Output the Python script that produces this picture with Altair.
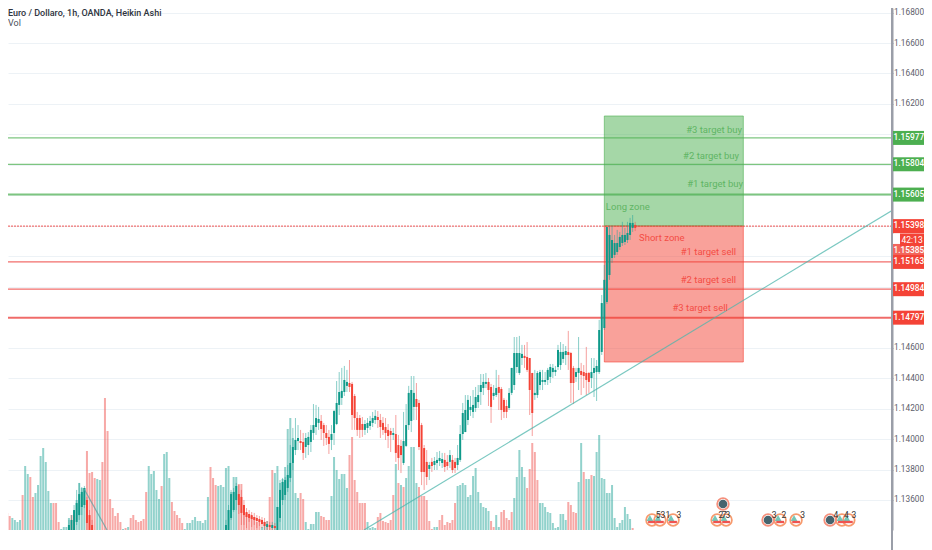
import altair as alt
import pandas as pd

# ---- price candles, as (open, high, low, close) in 1e-5 price points, one list per stretch of bars
start_a = 26
candles_a = [
    (113370,113469,113337,113436),(113403,113501,113383,113469),(113403,113567,113370,113534),
    (113456,113666,113436,113580),(113501,113712,113469,113639),(113554,113685,113501,113653),
    (113567,113692,113547,113679),(113600,113620,113400,113449),(113501,113534,113370,113400),
    (113436,113469,113337,113370),
]
start_b = 87
candles_b = [
    (113370,113469,113345,113436),(113370,113567,113345,113534),(113482,113666,113469,113639),
    (113534,113679,113521,113653),(113600,113712,113534,113692),(113639,113698,113508,113567),
    (113620,113666,113436,113515),(113567,113600,113436,113501),(113521,113547,113416,113488),
    (113508,113534,113456,113482),(113501,113521,113423,113475),(113488,113515,113436,113469),
    (113482,113501,113416,113462),(113475,113495,113429,113456),(113469,113488,113416,113442),
    (113456,113482,113403,113429),(113423,113462,113403,113442),(113436,113456,113403,113423),
    (113416,113456,113403,113436),(113429,113449,113403,113416),(113403,113554,113390,113554),
    (113482,113731,113456,113666),(113600,113745,113567,113718),(113633,113751,113600,113731),
    (113679,113830,113653,113764),(113745,113961,113718,113843),(113843,114073,113797,113948),
    (113928,114138,113895,113994),(113987,114092,113928,114007),(113987,114060,113928,113974),
    (113981,114040,113863,113909),(113948,114040,113876,114007),(113961,114046,113895,114014),
]
start_c = 120
candles_c = [
    (113981,114092,113915,114060),(114040,114230,113994,114092),(114079,114224,114027,114138),
    (114106,114211,114060,114132),(114119,114158,113994,114066),(114092,114106,113955,114040),
    (114040,114092,113961,114007),(114014,114060,113902,113968),(113994,114092,113928,114033),
    (114040,114191,113961,114184),(114099,114381,114092,114237),(114224,114440,114158,114309),
    (114270,114467,114224,114316),(114309,114480,114283,114388),(114349,114454,114309,114375),
    (114368,114519,114309,114342),(114362,114375,114060,114158),(114283,114296,114060,114138),
    (114138,114178,114020,114060),(114138,114158,114007,114060),(114099,114145,114014,114060),
    (114060,114125,114027,114099),(114073,114138,114040,114106),(114086,114152,114060,114119),
    (114106,114178,114079,114138),(114125,114191,114099,114152),(114145,114184,114073,114125),
    (114125,114165,114007,114079),(114106,114145,114027,114060),(114079,114138,113994,114040),
    (114060,114099,113941,114020),(114053,114073,113915,114027),(114027,114073,113994,114040),
    (114033,114158,113850,113909),(113961,114027,113797,113876),(113955,113994,113777,113895),
    (113843,114178,113830,113987),(113955,114230,113948,114092),(114092,114349,114060,114303),
    (114119,114414,114046,114322),(114211,114414,114125,114303),(114263,114368,114125,114211),
    (114237,114257,113928,113948),(114092,114106,113698,113784),(113941,113961,113666,113784),
    (113850,113928,113698,113751),(113804,113850,113731,113830),
]
start_d = 167
candles_d = [
    (113850,113876,113784,113823),(113830,113882,113797,113856),(113843,113915,113797,113863),
    (113856,113922,113823,113876),(113843,113909,113810,113869),(113863,113909,113784,113817),
    (113850,113895,113797,113823),(113850,113928,113810,113895),(113863,113895,113777,113797),
    (113850,113876,113777,113810),(113830,113961,113797,113876),(113863,114092,113850,114033),
    (114033,114237,113994,114171),(114046,114289,114046,114191),(114125,114289,114092,114257),
    (114191,114283,114152,114211),(114178,114322,114138,114224),(114204,114342,114178,114276),
    (114243,114355,114204,114289),(114309,114427,114224,114355),(114335,114427,114289,114375),
    (114362,114434,114335,114375),(114375,114401,114217,114322),(114342,114362,114106,114211),
    (114283,114355,114257,114303),(114289,114454,114276,114335),(114342,114421,114191,114303),
    (114329,114342,114125,114191),(114257,114270,114138,114178),(114217,114257,114138,114178),
    (114204,114335,114191,114303),(114303,114467,114289,114467),(114355,114670,114322,114565),
    (114473,114670,114434,114565),(114434,114677,114421,114565),(114532,114618,114486,114559),
    (114546,114618,114467,114532),(114539,114637,114440,114454),(114532,114532,114158,114322),
    (114434,114434,114020,114171),(114289,114454,114257,114303),(114289,114447,114270,114434),
    (114355,114454,114322,114440),(114375,114454,114322,114388),(114375,114440,114355,114388),
    (114388,114467,114355,114454),(114408,114493,114368,114473),(114440,114493,114401,114467),
    (114440,114480,114414,114454),
]
start_e = 216
candles_e = [
    (114473,114618,114454,114585),(114486,114637,114454,114572),(114526,114624,114500,114572),
    (114552,114611,114486,114578),(114572,114710,114454,114552),(114565,114572,114237,114368),
    (114467,114480,114230,114368),(114408,114467,114375,114440),(114434,114670,114322,114467),
    (114447,114500,114289,114421),(114440,114486,114335,114414),(114434,114605,114289,114388),
    (114434,114440,114303,114375),(114401,114532,114335,114440),(114434,114532,114276,114467),
    (114440,114519,114250,114480),(114440,114782,114427,114716),(114572,114946,114552,114893),
    (114729,115143,114716,115045),(114900,115392,114887,115392),(115077,115399,115045,115340),
    (115189,115399,115156,115307),(115209,115340,115189,115287),(115228,115373,115209,115287),
    (115261,115360,115242,115327),(115287,115426,115268,115340),(115294,115386,115274,115340),
    (115307,115426,115287,115353),(115340,115452,115307,115419),(115386,115471,115360,115419),
    (115406,115426,115366,115386),
]

# ---- volume per bar (sign: + rising bar, - falling bar)
volume_signed = [
    -3,-3,-17,-14,12,10,8,10,-35,64,
    56,-53,-33,37,45,74,82,68,39,27,
    -27,-27,-8,1,3,3,12,-15,-15,30,
    47,42,42,-79,-57,-58,-52,51,50,-68,
    -132,-99,-31,-22,-14,-17,-8,1,-2,3,
    -12,-15,-10,-8,-9,-11,-38,64,56,59,
    40,31,-44,76,78,52,-28,-19,-15,-12,
    -7,1,7,7,10,13,9,9,7,10,
    33,-63,-52,-45,44,45,43,62,64,38,
    53,53,-46,-46,-25,-17,-16,-14,-13,-8,
    -10,3,8,-9,-33,-60,57,64,47,51,
    63,101,112,92,37,32,-37,-31,8,1,
    6,6,18,18,-14,-13,-10,-10,34,73,
    60,51,56,56,42,-75,-93,-50,-38,-27,
    -27,-27,8,2,3,2,-13,-17,-9,-8,
    -7,-10,-35,66,-47,45,-43,52,64,83,
    83,47,-43,-34,-34,-30,-9,-1,3,3,
    -10,-15,-5,-8,-7,-10,-27,44,45,47,
    45,33,35,54,62,38,27,23,22,19,
    -9,-3,15,3,-18,-20,-12,-10,-18,32,
    53,80,63,53,-42,-61,-87,-78,-50,27,
    27,23,18,17,7,2,3,16,16,10,
    -28,-25,-18,-17,48,87,-58,51,51,-55,
    54,78,95,52,51,37,37,45,12,3,
    7,10,23,16,11,-2,
]

# ---- axes
day_ticks = [24,48,72,96,120,144,168,192,216,240,264,288,312,336]
day_labels = ["9","10","13","14","15","16","17","20","21","22","23","24","27","28"]
price_ticks = [1.136,1.138,1.140,1.142,1.144,1.146,1.148,1.150,1.152,1.154,1.156,1.158,1.160,1.162,1.164,1.166,1.168]
x_domain = [2.33, 345.76]
y_domain = [1.13403, 1.16830]
vol_domain = [0, 522]

# ---- drawn levels and zones
buy_levels = [1.15977, 1.15804, 1.15605]
buy_widths = [1.2, 1.2, 2]
sell_levels = [1.15163, 1.14984, 1.14797]
sell_widths = [1.2, 1.2, 2]
last_price = [1.15398]
zone_start, zone_end = 234, 288
zone_top, zone_mid, zone_bottom = 1.16121, 1.15399, 1.14506
trend_x = [140.6, 345.76]
trend_y = [1.13403, 1.15501]
short_trend_x = [31.9, 40.8]
short_trend_y = [1.13672, 1.13403]

buy_texts = ["#3 target buy", "#2 target buy", "#1 target buy"]
buy_text_x = [287.5, 286.3, 287.9]
buy_text_y = [1.16029, 1.15859, 1.15675]
sell_texts = ["#1 target sell", "#2 target sell", "#3 target sell"]
sell_text_x = [285.2, 285.2, 282.0]
sell_text_y = [1.15228, 1.15045, 1.14861]

tag_texts = ["1.15977","1.15804","1.15605","1.15398","1.15385","1.15163","1.14984","1.14797"]
tag_y = [1.15977,1.15804,1.15605,1.15398,1.15235,1.15163,1.14984,1.14797]
tag_colors = ["#4caf50","#4caf50","#4caf50","#f44336","#f2665c","#f44336","#f44336","#f44336"]

flag_x = [252.5,255.6,260.7,277.8,281.3,302.3,308.5,326.3,329.0]
dark_x = [297.6,321.7,280.1]
dark_row = [0,0,1]
event_x = [254.9,256.8,258.7,263.0,279.3,280.5,282.0,300.0,303.8,311.0,324.0,328.0,331.0]
event_counts = ["5","3","1","3","2","7","3","3","2","3","4","4","3"]

FONT = "Roboto"
TEAL, RED = "#26a69a", "#ef5350"
BODY_TEAL = "#0f9a8a"
GREEN = "#4caf50"

W, H = 884, 522
RIGHT = 32

rows = []
for start, block in [(start_a,candles_a),(start_b,candles_b),(start_c,candles_c),(start_d,candles_d),(start_e,candles_e)]:
    for k,(o,h,l,c) in enumerate(block):
        rows.append(dict(i=start+k,open=o/1e5,high=h/1e5,low=l/1e5,close=c/1e5,up=c>=o))
candles = pd.DataFrame(rows)
vols = pd.DataFrame([dict(i=k,v=abs(v),zero=0,up=v>=0) for k,v in enumerate(volume_signed)])

X = lambda f="i": alt.X(f"{f}:Q", scale=alt.Scale(domain=x_domain, nice=False, zero=False), axis=None)
pscale = alt.Scale(domain=y_domain, nice=False, zero=False)
Y = lambda f: alt.Y(f"{f}:Q", scale=pscale, axis=None)
dir_color = lambda a, b: alt.condition("datum.up", alt.value(a), alt.value(b))

label_map = ",".join(f"'{t}':'{l}'" for t,l in zip(day_ticks, day_labels))
frame_color = "#9a9ea8"
grid_color = "#edf2f6"
base = alt.Chart(pd.DataFrame({"i":[day_ticks[0]],"p":[price_ticks[0]]})).mark_point(opacity=0).encode(
    x=alt.X("i:Q", scale=alt.Scale(domain=x_domain, nice=False, zero=False),
            axis=alt.Axis(values=day_ticks, labelExpr="{"+label_map+"}[datum.value]", title=None,
                          grid=True, gridColor=grid_color, gridWidth=1, domainColor=frame_color, domainWidth=1.5,
                          tickColor=frame_color, tickSize=3, labelColor="#5d606b", labelFontSize=10.5,
                          labelFont=FONT, labelPadding=3, labelFlush=False, labelOverlap=False)),
    y=alt.Y("p:Q", scale=pscale,
            axis=alt.Axis(orient="right", values=price_ticks, title=None,
                          labelExpr="datum.value>1.147 && datum.value<1.161 ? '' : format(datum.value,'.5f')",
                          grid=True, gridColor=grid_color, gridWidth=1, domainColor=frame_color, domainWidth=2,
                          tickColor=frame_color, tickSize=1, labelColor="#5d606b", labelFontSize=8.3,
                          labelFont=FONT, labelPadding=0.5, labelFlush=False, labelOverlap=False)),
)

vol_layer = alt.Chart(vols).mark_rule(strokeWidth=2, opacity=0.5, clip=True).encode(
    x=X(), y=alt.Y("v:Q", scale=alt.Scale(domain=vol_domain, nice=False), axis=None), y2="zero:Q",
    color=dir_color(TEAL, RED))
wicks = alt.Chart(candles).mark_rule(strokeWidth=1, opacity=0.55, clip=True).encode(
    x=X(), y=Y("high"), y2="low:Q", color=dir_color(TEAL, RED))
bodies = alt.Chart(candles).mark_rule(strokeWidth=2, clip=True).encode(
    x=X(), y=Y("open"), y2="close:Q", color=dir_color(BODY_TEAL, "#f44336"))

def hlines(levels, widths, color):
    df = pd.DataFrame({"p":levels,"w":widths})
    return alt.Chart(df).mark_rule(color=color, opacity=0.85).encode(
        y=Y("p"), strokeWidth=alt.StrokeWidth("w:Q", scale=None))

last_line = alt.Chart(pd.DataFrame({"p":last_price})).mark_rule(color=RED, strokeWidth=1, strokeDash=[2,1]).encode(y=Y("p"))

def zone(top, bottom, color):
    df = pd.DataFrame({"a":[zone_start],"b":[zone_end],"t":[top],"u":[bottom]})
    return alt.Chart(df).mark_rect(color=color, fillOpacity=0.5, strokeOpacity=0.6, stroke=color, strokeWidth=1).encode(
        x=X("a"), x2="b:Q", y=Y("t"), y2="u:Q")

def line(xs, ys, color, opacity=0.75):
    return alt.Chart(pd.DataFrame({"i":xs,"p":ys})).mark_line(color=color, strokeWidth=1.2, opacity=opacity, clip=True).encode(
        x=X(), y=Y("p"))

def labels(texts, xs, ys, color, align):
    df = pd.DataFrame({"t":texts,"i":xs,"p":ys})
    return alt.Chart(df).mark_text(color=color, font=FONT, fontSize=9.5, align=align, baseline="middle").encode(
        x=X(), y=Y("p"), text="t:N")

tags_df = pd.DataFrame({"t":tag_texts,"p":tag_y,"c":tag_colors})
tags = alt.Chart(tags_df).mark_rule(strokeWidth=14).encode(
    x=alt.value(W+1), x2=alt.value(W+RIGHT), y=Y("p"), color=alt.Color("c:N", scale=None))
tag_text = alt.Chart(tags_df).mark_text(color="white", font=FONT, fontSize=8.3, fontWeight=500, align="left", baseline="middle").encode(
    x=alt.value(W+1.5), y=Y("p"), text="t:N")
count_patch = alt.Chart(pd.DataFrame({"p":[1.15307]})).mark_rule(strokeWidth=13, color="white").encode(
    x=alt.value(W+1), x2=alt.value(W+8), y=Y("p"))
count_tag = alt.Chart(pd.DataFrame({"p":[1.15307]})).mark_rule(strokeWidth=13, color="#f44336").encode(
    x=alt.value(W+8), x2=alt.value(W+RIGHT), y=Y("p"))
count_text = alt.Chart(pd.DataFrame({"p":[1.15307],"t":["42:13"]})).mark_text(color="white", font=FONT, fontSize=8.5, align="left", baseline="middle").encode(
    x=alt.value(W+9.5), y=Y("p"), text="t:N")

side_rule = alt.Chart(pd.DataFrame({"a":[0]})).mark_rule(color=frame_color, strokeWidth=2).encode(
    x=alt.value(W), y=alt.value(0), y2=alt.value(H+20))

title1 = alt.Chart(pd.DataFrame({"t":["Euro / Dollaro, 1h, OANDA, Heikin Ashi"]})).mark_text(
    font=FONT, fontSize=9, color="#2f3440", align="left", baseline="middle", fontWeight=500).encode(
    x=alt.value(0), y=alt.value(5), text="t:N")
title2 = alt.Chart(pd.DataFrame({"t":["Vol"]})).mark_text(
    font=FONT, fontSize=9, color="#4a4f5a", align="left", baseline="middle").encode(
    x=alt.value(0), y=alt.value(15), text="t:N")

flags = pd.DataFrame({"i":flag_x})
ring = alt.Chart(flags).mark_point(shape="circle", size=135, fill="white", fillOpacity=1, stroke="#f79a6e", strokeWidth=1.8).encode(
    x=X(), y=alt.value(H-10))
flag_top = alt.Chart(flags.assign(i=[v-0.8 for v in flag_x])).mark_point(shape="triangle-up", size=45, fill="#74c7b8", fillOpacity=1, strokeWidth=0).encode(
    x=X(), y=alt.value(H-12))
flag_red = alt.Chart(flags).mark_point(shape="M-1,-0.3H1V0.3H-1Z", size=60, fill="#ef5350", fillOpacity=1, strokeWidth=0).encode(
    x=X(), y=alt.value(H-8))
darks = pd.DataFrame({"i":dark_x,"row":[H-10-16*r for r in dark_row]})
dark_ring = alt.Chart(darks).mark_point(shape="circle", size=135, fill="white", fillOpacity=1, stroke="#f5907c", strokeWidth=1.8).encode(
    x=X(), y=alt.Y("row:Q", scale=None, axis=None))
dark_dot = alt.Chart(darks).mark_point(shape="circle", size=75, fill="#46646e", fillOpacity=1, strokeWidth=0).encode(
    x=X(), y=alt.Y("row:Q", scale=None, axis=None))
counts = alt.Chart(pd.DataFrame({"i":event_x,"t":event_counts})).mark_text(
    font=FONT, fontSize=8.5, color="#333333", align="center", baseline="middle").encode(
    x=X(), y=alt.value(H-15), text="t:N")

chart = alt.layer(
    base, vol_layer, last_line,
    hlines(buy_levels, buy_widths, "#66bb6a"), hlines(sell_levels, sell_widths, RED),
    zone(zone_top, zone_mid, GREEN), zone(zone_mid, zone_bottom, "#f44336"),
    wicks, bodies,
    line(trend_x, trend_y, "#4db6ac"), line(short_trend_x, short_trend_y, "#5c9ea0"),
    labels(buy_texts, buy_text_x, buy_text_y, "#5fb564", "right"),
    labels(["Long zone"], [234.6], [1.15524], "#5fb564", "left"),
    labels(["Short zone"], [247.5], [1.15320], "#f44d45", "left"),
    labels(sell_texts, sell_text_x, sell_text_y, "#f44d45", "right"),
    ring, flag_top, flag_red, dark_ring, dark_dot, counts,
    side_rule, count_patch, tags, count_tag, tag_text, count_text, title1, title2,
).resolve_scale(y="independent", x="shared").properties(
    width=W, height=H,
    padding={"left":0,"top":0,"right":RIGHT,"bottom":20},
    autosize=alt.AutoSizeParams(type="none"),
    background="white",
).configure_view(stroke=None)

chart.save("out.html", embed_options={"renderer": "svg", "actions": False})
